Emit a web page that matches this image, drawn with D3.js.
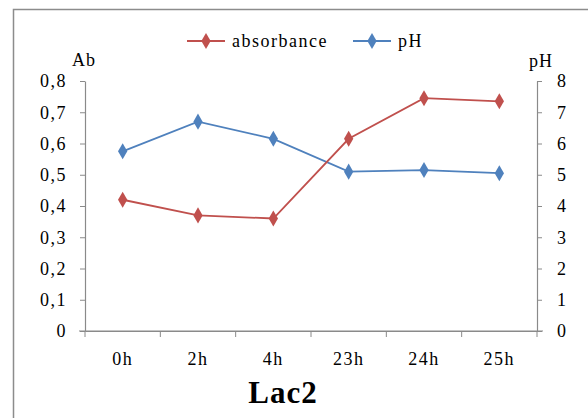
<!DOCTYPE html>
<html>
<head>
<meta charset="utf-8">
<script src="https://cdn.jsdelivr.net/npm/d3@7"></script>
<style>
  html, body { margin: 0; padding: 0; background: #fff; }
</style>
</head>
<body>
<div id="chart"></div>
<script>
/* ── Data ── */
const categories = ['0h', '2h', '4h', '23h', '24h', '25h'];
const absorbance = [0.42, 0.37, 0.36, 0.615, 0.745, 0.735];
const ph         = [5.75, 6.7, 6.15, 5.1, 5.15, 5.05];
const abTicks    = [0, 0.1, 0.2, 0.3, 0.4, 0.5, 0.6, 0.7, 0.8];
const phTicks    = [0, 1, 2, 3, 4, 5, 6, 7, 8];

const W = 588, H = 418;
const RED = '#C0504D', BLUE = '#4F81BD', AXIS = '#8a8a8a';
const SERIF = "'Liberation Serif', 'Times New Roman', serif";

const plot = { left: 85, right: 537, top: 81, bottom: 331 };

const svg = d3.select('#chart').append('svg')
  .attr('width', W).attr('height', H)
  .attr('font-family', SERIF)
  .attr('letter-spacing', 1.5);

// outer frame (runs off the picture on right/bottom)
svg.append('rect')
  .attr('x', 13.5).attr('y', 9.5)
  .attr('width', W).attr('height', H)
  .attr('fill', 'none').attr('stroke', '#8c8c8c').attr('stroke-width', 1.5);

const x = d3.scaleBand().domain(categories).range([plot.left, plot.right]);
const yAb = d3.scaleLinear().domain([0, 0.8]).range([plot.bottom, plot.top]);
const yPh = d3.scaleLinear().domain([0, 8]).range([plot.bottom, plot.top]);
const cx = c => x(c) + x.bandwidth() / 2;

const fmtComma = d => d === 0 ? '0' : d3.format('.1f')(d).replace('.', ',');

/* ── Axes ── */
const leftAxis = svg.append('g')
  .attr('transform', `translate(${plot.left},0)`)
  .call(d3.axisLeft(yAb).tickValues(abTicks).tickFormat(fmtComma).tickSize(5).tickSizeOuter(0).tickPadding(13));

const rightAxis = svg.append('g')
  .attr('transform', `translate(${plot.right},0)`)
  .call(d3.axisRight(yPh).tickValues(phTicks).tickFormat(d3.format('d')).tickSize(5).tickSizeOuter(0).tickPadding(15));

const bottomAxis = svg.append('g')
  .attr('transform', `translate(0,${plot.bottom})`)
  .call(d3.axisBottom(x).tickSize(0).tickPadding(21));

// category boundary ticks on the x axis
bottomAxis.selectAll('.boundary')
  .data(d3.range(categories.length + 1))
  .join('line')
  .attr('class', 'boundary')
  .attr('x1', i => plot.left + i * x.step()).attr('x2', i => plot.left + i * x.step())
  .attr('y1', 0).attr('y2', 6)
  .attr('stroke', AXIS);

// the x axis pokes out a little to the left of the Ab axis
bottomAxis.append('line')
  .attr('x1', plot.left - 6).attr('x2', plot.right + 6)
  .attr('stroke', AXIS).attr('stroke-width', 1.2);

[leftAxis, rightAxis, bottomAxis].forEach(g => {
  g.attr('font-family', SERIF).attr('font-size', 18);
  g.selectAll('path.domain').attr('stroke', AXIS).attr('stroke-width', 1.2);
  g.selectAll('.tick line').attr('stroke', AXIS);
  g.selectAll('.tick text').attr('fill', '#000');
});

/* ── Axis titles ── */
svg.append('text').attr('x', 84).attr('y', 66)
  .attr('text-anchor', 'middle').attr('font-size', 18).attr('letter-spacing', 1).text('Ab');
svg.append('text').attr('x', 541).attr('y', 67)
  .attr('text-anchor', 'middle').attr('font-size', 18).attr('letter-spacing', 1).text('pH');

svg.append('text').attr('x', 283).attr('y', 403)
  .attr('text-anchor', 'middle').attr('font-size', 31).attr('font-weight', 'bold')
  .attr('letter-spacing', 1).text('Lac2');

/* ── Series ── */
const diamond = d3.symbol().type(d3.symbolDiamond).size(75);

function drawSeries(values, yScale, color) {
  const pts = categories.map((c, i) => [cx(c), yScale(values[i])]);
  svg.append('path')
    .attr('d', d3.line()(pts))
    .attr('fill', 'none').attr('stroke', color).attr('stroke-width', 1.8);
  svg.append('g').selectAll('path')
    .data(pts)
    .join('path')
    .attr('transform', d => `translate(${d[0]},${d[1]})`)
    .attr('d', diamond)
    .attr('fill', color);
}

drawSeries(ph, yPh, BLUE);
drawSeries(absorbance, yAb, RED);

/* ── Legend ── */
const legend = [
  { label: 'absorbance', color: RED, x: 187 },
  { label: 'pH', color: BLUE, x: 353 }
];
const lg = svg.append('g').selectAll('g').data(legend).join('g')
  .attr('transform', d => `translate(${d.x},41)`);
lg.append('line').attr('x1', 0).attr('x2', 38).attr('y1', 0).attr('y2', 0)
  .attr('stroke', d => d.color).attr('stroke-width', 1.8);
lg.append('path').attr('transform', 'translate(19,0)').attr('d', diamond)
  .attr('fill', d => d.color);
lg.append('text').attr('x', 45).attr('y', 6)
  .attr('font-size', 18).text(d => d.label);
</script>
</body>
</html>
